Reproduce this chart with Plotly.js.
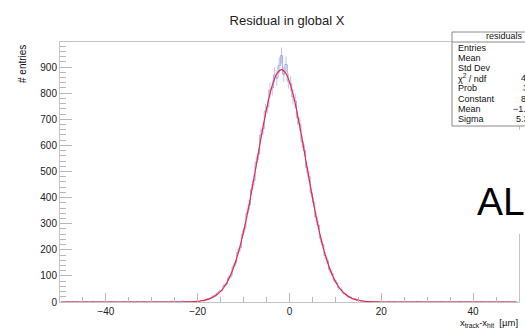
<!DOCTYPE html>
<html>
<head>
<meta charset="utf-8">
<script src="https://cdn.plot.ly/plotly-3.0.1.min.js"></script>
<style>html,body{margin:0;padding:0;background:#fff;overflow:hidden}#chart{width:525px;height:332px}</style>
</head>
<body>
<div id="chart"></div>
<script>
// Histogram binning: 200 bins of 0.5 µm from -50 to 50
const binStart = -49.75;
const binWidth = 0.5;
// Counts per bin, left to right
const counts = [
  1,0,0,1,0,2,0,1,0,0, 1,1,0,0,2,0,1,0,1,0, 0,1,2,0,1,0,0,1,1,0,
  2,1,0,1,0,1,2,0,1,1, 0,2,1,1,0,2,1,0,3,1, 2,1,2,3,1,2,
  1,0,2,3,2,5,4,9,12,15,
  21,25,33,41,44,63,69,92,101,135,
  150,190,208,259,283,340,372,431,466,535,
  567,640,664,731,748,812,820,870,858,905,
  944,
  872,910,846,836,786,770,706,681,614,580,
  515,480,418,382,326,295,244,220,178,158,
  124,110,84,74,54,48,34,30,20,18,
  12,11,6,6,3,4,2,1,2,0,
  1,0,1,1,0,0,2,0,1,0, 0,1,0,1,0,0,1,0,2,0, 1,0,0,1,1,0,0,1,0,1,
  0,0,1,0,1,0,0,2,0,1, 0,1,0,0,1,0,1,1,0,0, 1,0,0,1,0,1,0,0,1,0, 0,1,0
];
// Gaussian fit curve sampled every 1 µm from -49.75
const fitStart = -49.75;
const fitStep = 1;
const fitValues = [
  0,0,0,0,0,0,0,0,0,0, 0,0,0,0,0,0,0,0,0,0, 0,0,0,0,0,0.1,0.2,0.4,
  0.8,1.6,3.0,5.6,10.0,17.2,28.6,45.9,71.2,106.6,154.1,215.0,289.7,376.9,473.4,574.2,672.2,760.3,829.7,874.5,
  890,
  874.5,829.7,760.3,672.2,574.2,473.4,376.9,289.7,215.0,154.1,106.6,71.2,45.9,28.6,17.2,10.0,5.6,3.0,1.6,0.8,
  0.4,0.2,0.1,0,0,0,0,0,0,0, 0,0,0,0,0,0,0,0,0,0, 0,0,0,0,0,0,0,0,0,0, 0
];
const xTickVals = [-40, -20, 0, 20, 40];
const yTickVals = [0,100,200,300,400,500,600,700,800,900];
const statsLabels = ["Entries","Mean","Std Dev","\u03c7<sup>2</sup> / ndf","Prob","Constant","Mean","Sigma"];
const statsValues = ["","","","436.9 / 187","3.264e-21","893.4 \u00b1 7.6","\u22121.703 \u00b1 0.035","5.344 \u00b1 0.027"];

// pixel -> paper helpers (plot area: x 60..519, y 42..302)
const L = 60, R = 519, T = 42, B = 302;
const px = v => (v - L) / (R - L);
const py = v => (B - v) / (B - T);

const FONT = "Liberation Sans, Arial, sans-serif";
const histColor = "#a3a9e6";

const traces = [
  {
    type: "scatter", mode: "lines",
    x0: binStart, dx: binWidth, y: counts,
    line: {shape: "hvh", color: histColor, width: 1},
    error_y: {type: "sqrt", color: "#bfc3ef", thickness: 1, width: 0},
    hoverinfo: "skip", showlegend: false
  },
  {
    type: "scatter", mode: "lines",
    x0: fitStart, dx: fitStep, y: fitValues,
    line: {shape: "spline", smoothing: 0.7, color: "#f2203a", width: 1.1},
    hoverinfo: "skip", showlegend: false
  }
];

const annotations = [];
// y-axis title
annotations.push({xref:"paper", yref:"paper", x: px(22), y: py(43), xanchor:"center", yanchor:"top",
  text:"# entries", textangle:-90, showarrow:false, font:{family:FONT, size:10, color:"#111"}});
// x-axis title
annotations.push({xref:"paper", yref:"paper", x: px(520), y: py(323), xanchor:"right", yanchor:"middle",
  text:"x<sub>track</sub>-x<sub>hit</sub>  [\u00b5m]", showarrow:false, font:{family:FONT, size:9.5, color:"#111"}});
// stats header
annotations.push({xref:"paper", yref:"paper", x: px(525), y: py(36), xanchor:"right", yanchor:"middle",
  text:"residuals", showarrow:false, font:{family:FONT, size:9, color:"#111"}});
const rowY = [48,58,68,78,88,99,109,119];
const valX = [560,560,560,519,521,519,511,514];
statsLabels.forEach((lab, i) => {
  annotations.push({xref:"paper", yref:"paper", x: px(456), y: py(rowY[i]), xanchor:"left", yanchor:"middle",
    text: lab, showarrow:false, font:{family:FONT, size:9, color:"#111"}});
  if (statsValues[i]) {
    annotations.push({xref:"paper", yref:"paper", x: px(valX[i]), y: py(rowY[i]), xanchor:"left", yanchor:"middle",
      text: statsValues[i], showarrow:false, font:{family:FONT, size:9, color:"#111"}});
  }
});
// overlay text
annotations.push({xref:"paper", yref:"paper", x: px(475), y: py(201), xanchor:"left", yanchor:"middle",
  text:"ALICE", showarrow:false, font:{family:FONT, size:39, color:"#000"}});

const shapes = [
  // white cover over right frame behind overlay
  {type:"rect", xref:"paper", yref:"paper", x0: px(505), x1: px(530), y0: py(234), y1: py(130),
   fillcolor:"#fff", line:{width:0}, layer:"above"},
  // stats box
  {type:"rect", xref:"paper", yref:"paper", x0: px(452), x1: px(570), y0: py(126), y1: py(32),
   fillcolor:"#fff", line:{color:"#8a8a8a", width:1}, layer:"above"},
  {type:"line", xref:"paper", yref:"paper", x0: px(452), x1: px(570), y0: py(42), y1: py(42),
   line:{color:"#8a8a8a", width:1}, layer:"above"}
];

const axisCommon = {
  showgrid:false, zeroline:false, showline:true, mirror:true,
  linecolor:"#c4c4c4", linewidth:1,
  ticks:"inside", tickcolor:"#b8b8b8", tickwidth:1,
  tickfont:{family:FONT, size:10, color:"#222"}
};

const layout = {
  width:525, height:332,
  margin:{l:L, r:525-R, t:T, b:332-B, pad:0},
  paper_bgcolor:"#fff", plot_bgcolor:"#fff",
  title:{text:"Residual in global X", font:{family:FONT, size:13, color:"#222"},
    xref:"paper", x:px(287), xanchor:"center", yref:"container", y:1-20/332, yanchor:"middle"},
  xaxis: Object.assign({}, axisCommon, {
    range:[-50,50], tickmode:"array", tickvals:xTickVals, ticklen:9,
    ticktext: xTickVals.map(v => v < 0 ? "\u2212" + Math.abs(v) : String(v)),
    minor:{dtick:5, tick0:0, ticks:"inside", ticklen:5, tickcolor:"#b8b8b8", showgrid:false}
  }),
  yaxis: Object.assign({}, axisCommon, {
    range:[0,996], tickmode:"array", tickvals:yTickVals, ticklen:12,
    minor:{dtick:20, tick0:0, ticks:"inside", ticklen:6, tickcolor:"#b8b8b8", showgrid:false}
  }),
  annotations, shapes, showlegend:false
};

Plotly.newPlot("chart", traces, layout, {staticPlot:true, displayModeBar:false});
</script>
</body>
</html>
